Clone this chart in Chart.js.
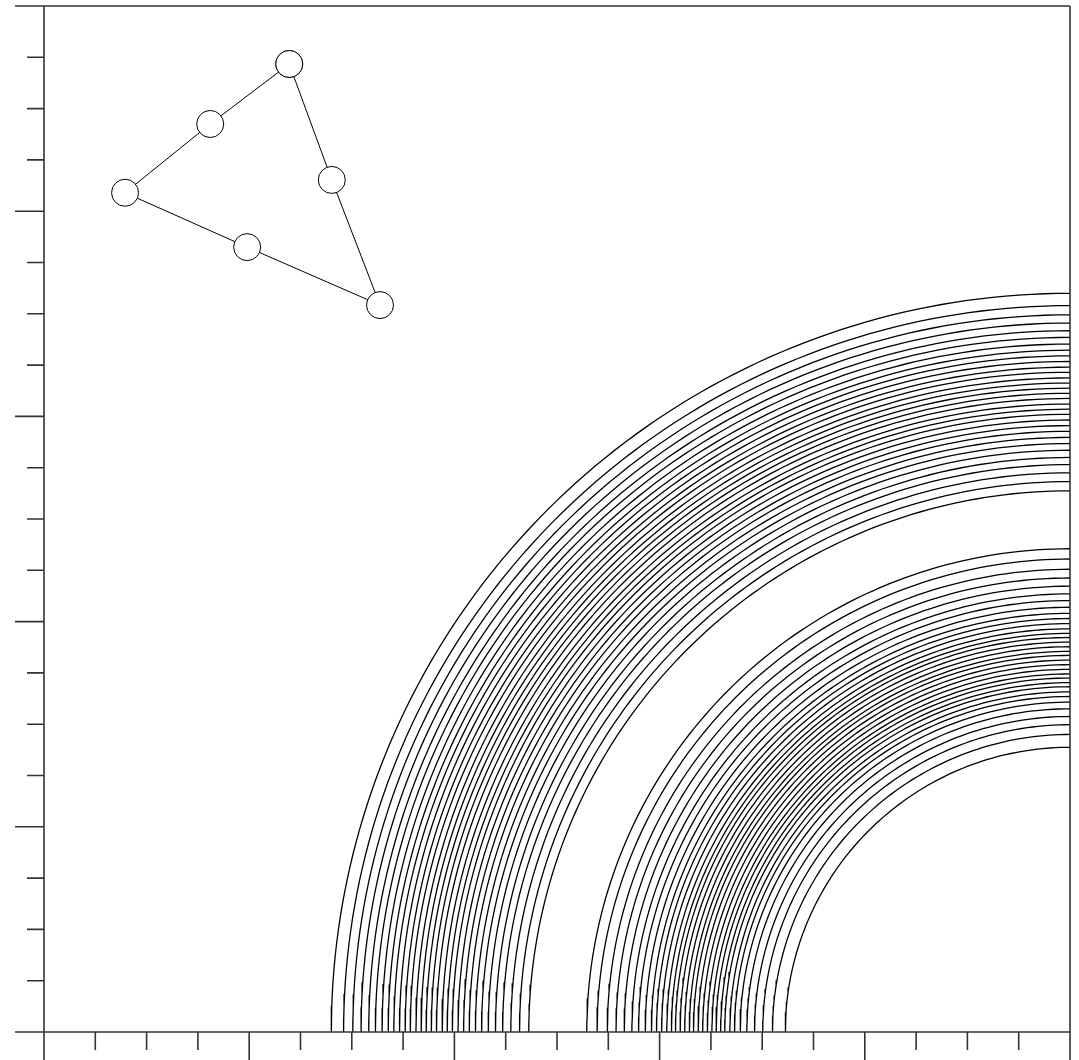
<!DOCTYPE html>
<html>
<head>
<meta charset="utf-8">
<script src="https://cdn.jsdelivr.net/npm/chart.js@4"></script>
<style>
  html, body { margin: 0; padding: 0; background: #ffffff; }
  #wrap { width: 1079px; height: 1060px; }
</style>
</head>
<body>
<div id="wrap"><canvas id="chart" width="1079" height="1060"></canvas></div>
<script>
// Axis extents (data units)
const X_MIN = 0, X_MAX = 20;
const Y_MIN = 0, Y_MAX = 20;
const MINOR_STEP = 1;
const MAJOR_STEP = 4;

// Contour rings centred on the lower-right corner (20, 0): radii of each level
const ringCenter = [20, 0];
const outerRadii = [14.40, 14.16, 13.98, 13.82, 13.67, 13.54, 13.41, 13.29, 13.18, 13.07,
                    12.96, 12.86, 12.75, 12.65, 12.55, 12.45, 12.35, 12.24, 12.14, 12.04,
                    11.93, 11.82, 11.71, 11.59, 11.47, 11.34, 11.20, 11.06, 10.90, 10.73, 10.55];
const innerRadii = [9.42, 9.22, 9.02, 8.85, 8.69, 8.54, 8.41, 8.28, 8.16, 8.06,
                    7.96, 7.86, 7.77, 7.69, 7.60, 7.51, 7.42, 7.34, 7.25, 7.16,
                    7.07, 6.98, 6.90, 6.81, 6.73, 6.63, 6.54, 6.43, 6.30, 6.15,
                    5.99, 5.80, 5.55];

// Triangle: corners and edge points, in drawing order (closed)
const triX = [4.78, 3.24, 1.58, 3.96, 6.55, 5.61, 4.78];
const triY = [18.87, 17.70, 16.36, 15.30, 14.17, 16.61, 18.87];

// Sweep each radius over the quarter circle inside the plot
function arcPoints(r) {
  const pts = [];
  const n = 90;
  for (let i = 0; i <= n; i++) {
    const a = Math.PI / 2 + (Math.PI / 2) * i / n;
    pts.push({ x: ringCenter[0] + r * Math.cos(a), y: ringCenter[1] + r * Math.sin(a) });
  }
  return pts;
}

const ringDatasets = outerRadii.concat(innerRadii).map(r => ({
  data: arcPoints(r),
  borderColor: '#000000',
  borderWidth: 1.3,
  pointRadius: 0,
  tension: 0,
  fill: false,
  order: 2
}));

const triangleDataset = {
  data: triX.map((x, i) => ({ x: x, y: triY[i] })),
  borderColor: '#000000',
  borderWidth: 1,
  pointRadius: 13.5,
  pointHoverRadius: 13.5,
  pointBackgroundColor: '#ffffff',
  pointBorderColor: '#000000',
  pointBorderWidth: 1,
  tension: 0,
  fill: false,
  order: 1
};

// Frame, axes and tick marks drawn from the chart's own scales
const framePlugin = {
  id: 'frame',
  afterDraw(chart) {
    const { ctx, scales: { x, y } } = chart;
    const left = x.getPixelForValue(X_MIN), right = x.getPixelForValue(X_MAX);
    const bottom = y.getPixelForValue(Y_MIN), top = y.getPixelForValue(Y_MAX);
    const minorLen = 17, majorLen = 29;
    ctx.save();
    ctx.strokeStyle = '#333333';
    ctx.lineWidth = 1.6;
    ctx.lineCap = 'butt';
    ctx.beginPath();
    // plot frame
    ctx.moveTo(left, top); ctx.lineTo(right, top);
    ctx.moveTo(right, top); ctx.lineTo(right, bottom);
    ctx.moveTo(left, top); ctx.lineTo(left, bottom);
    ctx.moveTo(left, bottom); ctx.lineTo(right, bottom);
    // y ticks (outward, to the left)
    for (let v = Y_MIN; v <= Y_MAX; v += MINOR_STEP) {
      const py = y.getPixelForValue(v);
      const len = (v % MAJOR_STEP === 0) ? majorLen : minorLen;
      ctx.moveTo(left - len, py); ctx.lineTo(left, py);
    }
    // x ticks (outward, downward)
    for (let v = X_MIN; v <= X_MAX; v += MINOR_STEP) {
      const px = x.getPixelForValue(v);
      const len = (v % MAJOR_STEP === 0) ? majorLen - 1 : minorLen + 1;
      ctx.moveTo(px, bottom); ctx.lineTo(px, bottom + len);
    }
    ctx.stroke();
    ctx.restore();
  }
};

new Chart(document.getElementById('chart'), {
  type: 'line',
  data: { datasets: ringDatasets.concat([triangleDataset]) },
  options: {
    responsive: false,
    animation: false,
    events: [],
    layout: { autoPadding: false, padding: { left: 44, right: 9, top: 6, bottom: 28 } },
    plugins: { legend: { display: false }, tooltip: { enabled: false } },
    scales: {
      x: { type: 'linear', min: X_MIN, max: X_MAX, display: false },
      y: { type: 'linear', min: Y_MIN, max: Y_MAX, display: false }
    }
  },
  plugins: [framePlugin]
});
</script>
</body>
</html>
